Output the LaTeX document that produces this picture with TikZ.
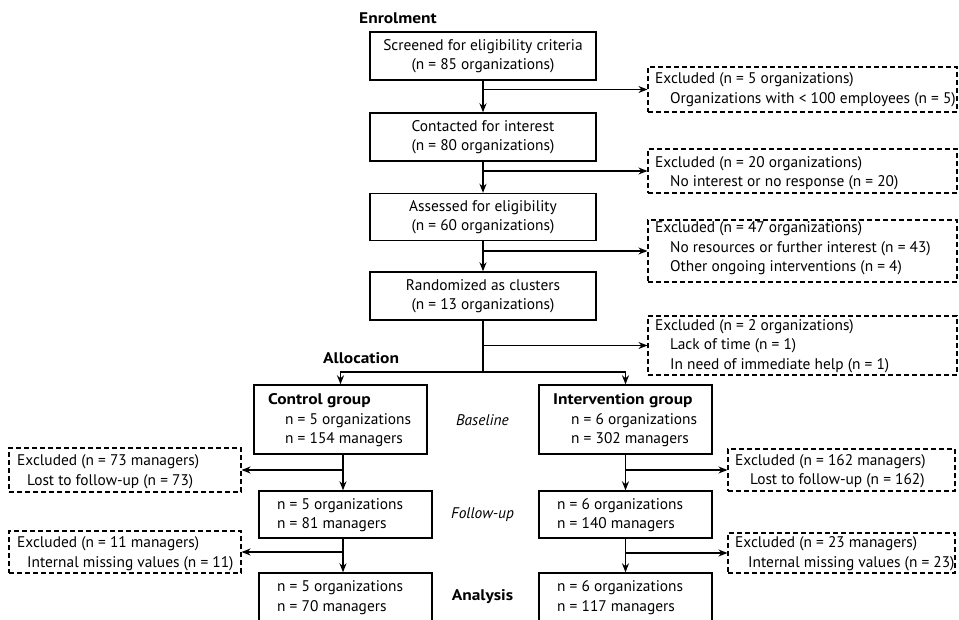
\documentclass[tikz,border=0pt]{standalone}
\usepackage{fontspec}
\setmainfont{PT Sans}[BoldFeatures={FakeStretch=1.13}]
\usetikzlibrary{arrows.meta,calc}
\begin{document}
\begin{tikzpicture}[x=1pt,y=-1pt,
  every node/.style={font=\fontsize{15.4}{19.5}\selectfont},
  box/.style={draw,line width=1.4pt,rectangle,inner sep=0pt,align=center},
  dbox/.style={draw,line width=1.1pt,dash pattern=on 5pt off 3pt,rectangle,inner sep=0pt},
  txt/.style={anchor=west,inner sep=0pt,align=left},
  arr/.style={line width=1.3pt,-{Stealth[length=9pt,width=7pt]}},
  ln/.style={line width=1.3pt}]
\clip (0,0) rectangle (959,620);
\fill[white] (0,0) rectangle (959,620);
% headings
\node[txt,font=\fontsize{15.4}{19.5}\selectfont\bfseries] (enr) at (359,18) {Enrolment};
\node[txt,font=\fontsize{15.4}{19.5}\selectfont\bfseries] (alloc) at (323,358) {Allocation};
\node[inner sep=0pt,font=\fontsize{15.4}{19.5}\selectfont\itshape] (base) at (482.5,420) {Baseline};
\node[inner sep=0pt,font=\fontsize{15.4}{19.5}\selectfont\itshape] (fup) at (482.5,515) {Follow-up};
\node[inner sep=0pt,font=\fontsize{15.4}{19.5}\selectfont\bfseries] (ana) at (482.5,597) {Analysis};
% main column
\node[box,minimum width=226,minimum height=48] (b1) at (483,56) {Screened for eligibility criteria\\(n = 85 organizations)};
\node[box,minimum width=226,minimum height=48] (b2) at (483,137) {Contacted for interest\\(n = 80 organizations)};
\node[box,minimum width=226,minimum height=47] (b3) at (483,217) {Assessed for eligibility\\(n = 60 organizations)};
\node[box,minimum width=226,minimum height=48] (b4) at (483,296) {Randomized as clusters\\(n = 13 organizations)};
% exclusion boxes right
\node[dbox,minimum width=309,minimum height=45] (e1) at (802.5,89.5) {};
\node[dbox,minimum width=309,minimum height=44] (e2) at (802.5,171) {};
\node[dbox,minimum width=309,minimum height=62] (e3) at (802.5,251) {};
\node[dbox,minimum width=309,minimum height=59] (e4) at (802.5,345.5) {};
\node[txt] (e1t) at (655,89.5) {Excluded (n = 5 organizations)\\\hspace*{15pt}Organizations with < 100 employees (n = 5)};
\node[txt] (e2t) at (655,173) {Excluded (n = 20 organizations)\\\hspace*{15pt}No interest or no response (n = 20)};
\node[txt] (e3t) at (655,248.5) {Excluded (n = 47 organizations)\\\hspace*{15pt}No resources or further interest (n = 43)\\\hspace*{15pt}Other ongoing interventions (n = 4)};
\node[txt] (e4t) at (655,346) {Excluded (n = 2 organizations)\\\hspace*{15pt}Lack of time (n = 1)\\\hspace*{15pt}In need of immediate help (n = 1)};
% groups
\node[box,minimum width=173,minimum height=69] (c) at (340.5,419.5) {};
\node[box,minimum width=173,minimum height=69] (i) at (625.5,419.5) {};
\node[box,minimum width=173,minimum height=47] (cf) at (345.5,514.5) {};
\node[box,minimum width=173,minimum height=47] (if) at (625.5,514.5) {};
\node[box,minimum width=173,minimum height=52] (ca) at (345.5,599) {};
\node[box,minimum width=173,minimum height=52] (ia) at (625.5,599) {};
\node[txt] (ct) at (268,420.5) {\textbf{Control group}\\\hspace*{17pt}n = 5 organizations\\\hspace*{17pt}n = 154 managers};
\node[txt] (it) at (553,420.5) {\textbf{Intervention group}\\\hspace*{18pt}n = 6 organizations\\\hspace*{18pt}n = 302 managers};
\node[txt] (cft) at (277,515) {n = 5 organizations\\n = 81 managers};
\node[txt] (ift) at (557,515) {n = 6 organizations\\n = 140 managers};
\node[txt] (cat) at (277,597.5) {n = 5 organizations\\n = 70 managers};
\node[txt] (iat) at (557,597.5) {n = 6 organizations\\n = 117 managers};
% group exclusions
\node[dbox,minimum width=232,minimum height=44] (ce1) at (125,470) {};
\node[dbox,minimum width=232,minimum height=42] (ce2) at (125,552) {};
\node[dbox,minimum width=227,minimum height=42] (ie1) at (841.5,470) {};
\node[dbox,minimum width=227,minimum height=40] (ie2) at (841.5,553) {};
\node[txt] (ce1t) at (17,471.5) {Excluded (n = 73 managers)\\\hspace*{10pt}Lost to follow-up (n = 73)};
\node[txt] (ce2t) at (17,553.5) {Excluded (n = 11 managers)\\\hspace*{10pt}Internal missing values (n = 11)};
\node[txt] (ie1t) at (735,471) {Excluded (n = 162 managers)\\\hspace*{15pt}Lost to follow-up (n = 162)};
\node[txt] (ie2t) at (735,553.5) {Excluded (n = 23 managers)\\\hspace*{13pt}Internal missing values (n = 23)};
% connectors main column
\draw[arr] (b1.south) -- (b2.north);
\draw[arr] (b2.south) -- (b3.north);
\draw[arr] (b3.south) -- (b4.north);
\draw[arr] (b1.south |- e1.west) -- (e1.west);
\draw[arr] (b2.south |- e2.west) -- (e2.west);
\draw[arr] (b3.south |- e3.west) -- (e3.west);
\draw[arr] (b4.south |- e4.west) -- (e4.west);
\coordinate (split) at (483,372);
\draw[ln] (b4.south) -- (split);
\draw[arr] (split) -| (c.north);
\draw[arr] (split) -| (i.north);
% group columns
\coordinate (cx) at (343,0);
\draw[arr] (cx |- c.south) -- (cx |- cf.north);
\draw[arr] (cx |- cf.south) -- (cx |- ca.north);
\draw[arr] (i.south) -- (if.north);
\draw[arr] (if.south) -- (ia.north);
\draw[arr] (cx |- ce1.east) -- (ce1.east);
\draw[arr] (cx |- ce2.east) -- (ce2.east);
\draw[arr] (i.south |- ie1.west) -- (ie1.west);
\draw[arr] (if.south |- ie2.west) -- (ie2.west);
\end{tikzpicture}
\end{document}
